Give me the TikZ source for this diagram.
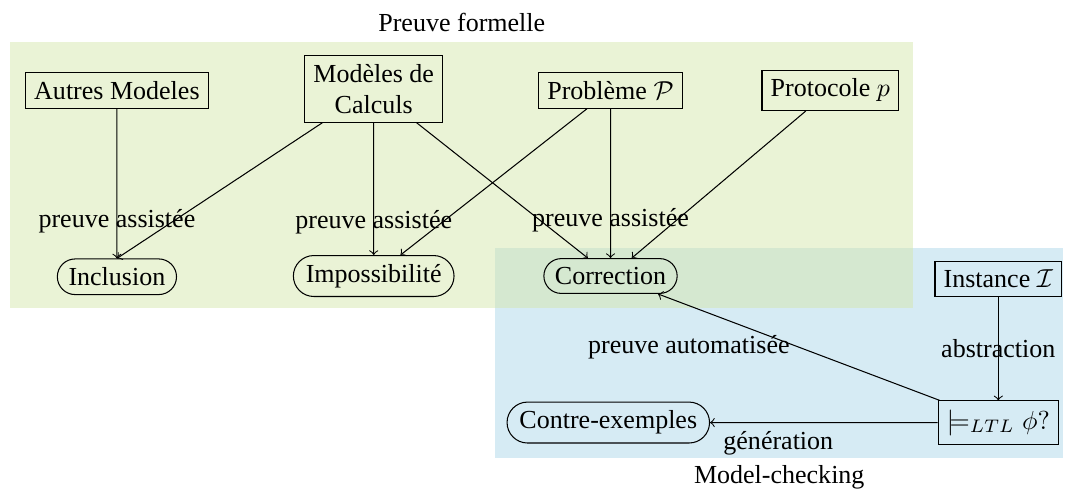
\documentclass[tikz,border=0pt]{standalone}
\usepackage{fontspec}
\setmainfont{Liberation Serif}
\usetikzlibrary{shapes.misc}
\definecolor{fondvert}{RGB}{213,231,173}
\definecolor{fondbleu}{RGB}{173,215,233}
\tikzset{
  boite/.style={draw, rectangle, align=center},
  resultat/.style={draw, rounded rectangle},
  zone/.style={fill opacity=0.5},
}
\begin{document}
\begin{tikzpicture}
\useasboundingbox (0,0) rectangle (14.405,-6.595);
% zones
\fill[zone, fondbleu] (6.69,-3.351) rectangle (14.36,-6.189);
\fill[zone, fondvert] (0.135,-0.568) rectangle (12.34,-4.162);
\node (titrepf) at (6.24,-0.30) {Preuve formelle};
\node (titremc) at (10.53,-6.45) {Model-checking};
% sources
\node[boite] (autres) at (1.58,-1.22) {Autres Modeles};
\node[boite] (calculs) at (5.05,-1.20) {Modèles de\\Calculs};
\node[boite] (pb) at (8.25,-1.22) {Problème $\mathcal{P}$};
\node[boite] (proto) at (11.22,-1.22) {Protocole $p$};
\node[boite] (inst) at (13.49,-3.77) {Instance $\mathcal{I}$};
\node[boite] (ltl) at (13.49,-5.71) {$\models_{LTL}\phi?$};
% resultats
\node[resultat] (incl) at (1.58,-3.74) {Inclusion};
\node[resultat] (imposs) at (5.05,-3.73) {Impossibilité};
\node[resultat] (corr) at (8.25,-3.73) {Correction};
\node[resultat] (contre) at (8.22,-5.71) {Contre-exemples};
% preuve formelle
\draw[->] (autres) -- node[near end] {preuve assistée} (incl);
\draw[->] (calculs) -- (incl.north);
\draw[->] (calculs) -- node[near end] {preuve assistée} (imposs);
\draw[->] (calculs) -- (corr);
\draw[->] (pb) -- (imposs);
\draw[->] (pb) -- node[near end] {preuve assistée} (corr);
\draw[->] (proto) -- (corr);
% model-checking
\draw[->] (inst) -- node {abstraction} (ltl);
\draw[->] (ltl) -- node[left] {preuve automatisée} (corr);
\draw[->] (ltl) -- node[pos=0.7, below] {génération} (contre);
\end{tikzpicture}
\end{document}
